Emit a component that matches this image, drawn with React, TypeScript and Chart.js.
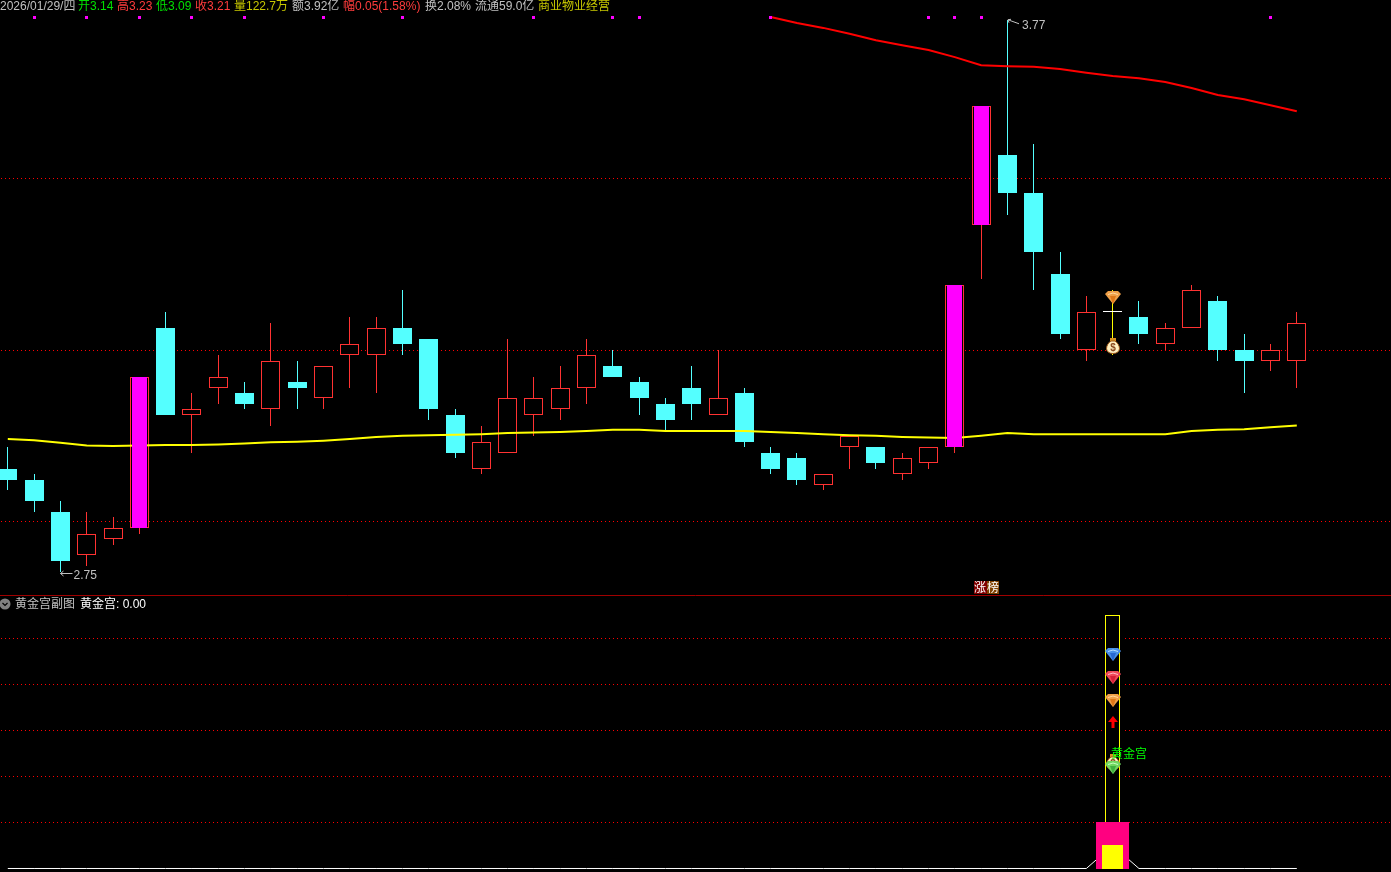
import React, { useEffect, useRef } from "react";
import { Chart, registerables } from "chart.js";

Chart.register(...registerables);

// ---- data ----
const opens = [2.94, 2.92, 2.86, 2.78, 2.81, 2.83, 3.20, 3.04, 3.09, 3.08, 3.05, 3.10, 3.07, 3.15, 3.15, 3.20, 3.18, 3.04, 2.94, 2.97, 3.04, 3.05, 3.09, 3.13, 3.10, 3.06, 3.09, 3.04, 3.08, 2.97, 2.96, 2.91, 2.98, 2.98, 2.93, 2.95, 2.98, 3.39, 3.52, 3.45, 3.30, 3.16, 3.23, 3.22, 3.17, 3.20, 3.25, 3.16, 3.14, 3.14];
const closes = [2.92, 2.88, 2.77, 2.82, 2.83, 3.11, 3.04, 3.05, 3.11, 3.06, 3.14, 3.09, 3.13, 3.17, 3.20, 3.17, 3.05, 2.97, 2.99, 3.07, 3.07, 3.09, 3.15, 3.11, 3.07, 3.03, 3.06, 3.07, 2.99, 2.94, 2.92, 2.93, 3.00, 2.95, 2.96, 2.98, 3.28, 3.61, 3.45, 3.34, 3.19, 3.23, 3.23, 3.19, 3.20, 3.27, 3.16, 3.14, 3.16, 3.21];
const highs = [2.98, 2.93, 2.88, 2.86, 2.85, 3.11, 3.23, 3.08, 3.15, 3.10, 3.21, 3.14, 3.13, 3.22, 3.22, 3.27, 3.18, 3.05, 3.02, 3.18, 3.11, 3.13, 3.18, 3.16, 3.11, 3.07, 3.13, 3.16, 3.09, 2.98, 2.97, 2.93, 3.00, 2.98, 2.97, 2.98, 3.28, 3.61, 3.77, 3.54, 3.34, 3.26, 3.27, 3.25, 3.21, 3.28, 3.26, 3.19, 3.17, 3.23];
const lows = [2.90, 2.86, 2.75, 2.76, 2.80, 2.82, 3.04, 2.97, 3.06, 3.05, 3.02, 3.05, 3.05, 3.09, 3.08, 3.15, 3.03, 2.96, 2.93, 2.97, 3.00, 3.03, 3.06, 3.11, 3.04, 3.01, 3.03, 3.04, 2.98, 2.93, 2.91, 2.90, 2.94, 2.94, 2.92, 2.94, 2.97, 3.29, 3.41, 3.27, 3.18, 3.14, 3.15, 3.17, 3.16, 3.20, 3.14, 3.08, 3.12, 3.09];
const maMid = [2.995, 2.993, 2.988, 2.983, 2.982, 2.983, 2.984, 2.984, 2.985, 2.987, 2.989, 2.990, 2.992, 2.995, 2.999, 3.001, 3.002, 3.003, 3.004, 3.006, 3.007, 3.008, 3.010, 3.012, 3.012, 3.010, 3.010, 3.010, 3.010, 3.008, 3.006, 3.004, 3.002, 3.001, 2.999, 2.998, 2.997, 3.001, 3.006, 3.004, 3.004, 3.004, 3.004, 3.004, 3.004, 3.010, 3.012, 3.013, 3.017, 3.020];
const maLong = [null, null, null, null, null, null, null, null, null, null, null, null, null, null, null, null, null, null, null, null, null, null, null, null, null, null, null, null, null, 3.775, 3.764, 3.755, 3.744, 3.732, 3.723, 3.714, 3.701, 3.686, 3.684, 3.683, 3.679, 3.672, 3.666, 3.662, 3.655, 3.644, 3.631, 3.623, 3.612, 3.601];
const limitUpDays = [5, 36, 37];
const signalDays = [1, 3, 5, 7, 9, 12, 15, 20, 23, 24, 29, 35, 36, 37, 48];
const signalLevel = 3.775;
const dojiDays = [42];
const goldDay = 42;
const goldLine = [0, 0, 0, 0, 0, 0, 0, 0, 0, 0, 0, 0, 0, 0, 0, 0, 0, 0, 0, 0, 0, 0, 0, 0, 0, 0, 0, 0, 0, 0, 0, 0, 0, 0, 0, 0, 0, 0, 0, 0, 0, 0, 0.5, 0, 0, 0, 0, 0, 0, 0];
const goldStick = [0, 5.5];
const goldOuter = [0, 1];
const goldInner = [0, 0.5];
const mainGems = [3.257];
const mainBag = [3.166];
const subBlue = [4.66];
const subRed = [4.16];
const subOrange = [3.66];
const subArrow = [3.18];
const subBag = [2.31];
const subGreen = [2.19];
const mainGrid = [3.477, 3.159, 2.843];
const subGrid = [5, 4, 3, 2, 1];
const headerTexts = ["2026/01/29/四", "开", "3.14", "高", "3.23", "低", "3.09", "收", "3.21", "量", "122.7万", "额", "3.92亿", "幅", "0.05(1.58%)", "换", "2.08%", "流通", "59.0亿", "商业物业经营"];
const highLabel = "3.77";
const lowLabel = "2.75";
const subName = "黄金宫副图";
const subValue = "黄金宫: 0.00";
const subMark = "黄金宫";
const badge = ["涨", "榜"];

// ---- styling and layout ----
const W = 1391;
const H = 872;
const RED = "#ff3232";
const CYAN = "#54ffff";
const MAGENTA = "#ff00ff";
const GREY = "#c0c0c0";
const OLIVE = "#c8c800";
const GREEN = "#00e000";
const UPRED = "#ff3c3c";
const GRID = "#ff0000";
const headerColors = [GREY, GREEN, GREEN, UPRED, UPRED, GREEN, GREEN, UPRED, UPRED, OLIVE, OLIVE, GREY, GREY, UPRED, UPRED, GREY, GREY, GREY, GREY, OLIVE];
const headerX = [0, 78, 90, 117, 129, 156, 168, 195, 207, 234, 246, 292, 304, 343, 355, 425, 437, 475, 499, 538];

function makeCanvas(w: number, h: number) {
  const c = document.createElement("canvas");
  c.width = w;
  c.height = h;
  return c;
}

function makeGem(base: string, light: string, dark: string) {
  const c = makeCanvas(16, 13);
  const g = c.getContext("2d")!;
  g.fillStyle = base;
  g.beginPath();
  g.moveTo(3, 0);
  g.lineTo(13, 0);
  g.lineTo(16, 3);
  g.lineTo(8, 13);
  g.lineTo(0, 3);
  g.closePath();
  g.fill();
  g.fillStyle = dark;
  g.beginPath();
  g.moveTo(5, 5);
  g.lineTo(11, 5);
  g.lineTo(8, 13);
  g.closePath();
  g.fill();
  g.strokeStyle = light;
  g.lineWidth = 1;
  g.beginPath();
  g.moveTo(3, 3.5);
  g.quadraticCurveTo(8, 0.5, 13, 3.5);
  g.stroke();
  return c;
}

function makeBag() {
  const c = makeCanvas(14, 16);
  const g = c.getContext("2d")!;
  g.fillStyle = "#d89020";
  g.fillRect(4, 0, 6, 3);
  g.fillStyle = "#fff0c0";
  g.strokeStyle = "#a05818";
  g.lineWidth = 1;
  g.beginPath();
  g.moveTo(5, 3);
  g.lineTo(9, 3);
  g.bezierCurveTo(15, 7, 15.5, 15.5, 7, 15.5);
  g.bezierCurveTo(-1.5, 15.5, -1, 7, 5, 3);
  g.closePath();
  g.fill();
  g.stroke();
  g.fillStyle = "#8a4a20";
  g.font = 'bold 10px "Liberation Sans"';
  g.textAlign = "center";
  g.textBaseline = "middle";
  g.fillText("$", 7, 10);
  return c;
}

function makeArrow() {
  const c = makeCanvas(10, 12);
  const g = c.getContext("2d")!;
  g.fillStyle = "#ff0000";
  g.beginPath();
  g.moveTo(5, 0);
  g.lineTo(10, 6);
  g.lineTo(6.5, 6);
  g.lineTo(6.5, 12);
  g.lineTo(3.5, 12);
  g.lineTo(3.5, 6);
  g.lineTo(0, 6);
  g.closePath();
  g.fill();
  return c;
}

const FONT = '12px "Liberation Sans", "Noto Sans CJK SC", sans-serif';

const snapPlugin = {
  id: "snap",
  beforeDatasetsDraw(chart: any) {
    chart.getSortedVisibleDatasetMetas().forEach((meta: any) => {
      if (meta.type === "bar") {
        meta.data.forEach((el: any) => {
          el.x = Math.floor(el.x) + 0.5;
          el.y = Math.round(el.y - 0.01);
          el.base = Math.round(el.base + 0.01);
        });
      } else if (!meta.controller.getDataset().showLine) {
        meta.data.forEach((el: any) => {
          const style = el.options.pointStyle;
          if (style && style.width) {
            el.x = Math.floor(el.x) + 1;
            el.y = Math.floor(el.y) + (style.height % 2 ? 0.5 : 0);
          } else {
            el.x = Math.floor(el.x) + 0.5;
            el.y = Math.floor(el.y) + 0.5;
          }
        });
      }
    });
  },
};

const textPlugin = {
  id: "texts",
  afterDraw(chart: any) {
    const g = chart.ctx;
    const xs = chart.scales.x;
    const ys = chart.scales.y;
    const ys2 = chart.scales.y2;
    g.save();
    g.font = FONT;
    g.textBaseline = "middle";
    g.textAlign = "left";
    headerTexts.forEach((t, i) => {
      g.fillStyle = headerColors[i];
      g.fillText(t, headerX[i], 7);
    });
    g.beginPath();
    g.arc(5, 604, 5.5, 0, Math.PI * 2);
    g.fillStyle = "#808080";
    g.fill();
    g.strokeStyle = "#000";
    g.lineWidth = 1.2;
    g.beginPath();
    g.moveTo(2.5, 603);
    g.lineTo(5, 605.5);
    g.lineTo(7.5, 603);
    g.stroke();
    g.fillStyle = GREY;
    g.fillText(subName, 15, 605);
    g.fillStyle = "#ffffff";
    g.fillText(subValue, 80, 605);

    // high / low call-outs
    const hiIndex = highs.indexOf(Math.max(...highs));
    const loIndex = lows.indexOf(Math.min(...lows));
    const hx = Math.floor(xs.getPixelForValue(hiIndex)) + 1;
    const hy = ys.getPixelForValue(highs[hiIndex]);
    const lx = Math.floor(xs.getPixelForValue(loIndex)) + 0.5;
    const ly = Math.round(ys.getPixelForValue(lows[loIndex])) + 1.5;
    g.strokeStyle = GREY;
    g.lineWidth = 1;
    g.beginPath();
    g.moveTo(hx, hy);
    g.lineTo(hx + 11, hy + 4);
    g.moveTo(hx, hy);
    g.lineTo(hx + 3, hy - 0.5);
    g.moveTo(hx, hy);
    g.lineTo(hx + 1, hy + 3);
    g.moveTo(lx, ly);
    g.lineTo(lx + 12, ly);
    g.moveTo(lx, ly);
    g.lineTo(lx + 3, ly - 2.5);
    g.moveTo(lx, ly);
    g.lineTo(lx + 3, ly + 2.5);
    g.stroke();
    g.fillStyle = GREY;
    g.fillText(highLabel, hx + 14, hy + 6);
    g.fillText(lowLabel, lx + 13, ly + 2);

    // badge
    g.fillStyle = "#800000";
    g.fillRect(974, 581, 13, 13);
    g.fillStyle = "#804000";
    g.fillRect(987, 581, 12, 13);
    g.fillStyle = "#ffffff";
    g.fillText(badge[0], 974, 589);
    g.fillText(badge[1], 987, 589);

    // sub pane mark
    g.fillStyle = "#00ff00";
    g.fillText(subMark, Math.floor(xs.getPixelForValue(goldDay)) - 1, ys2.getPixelForValue(2.48));
    g.restore();
  },
};

export default function App() {
  const ref = useRef<HTMLCanvasElement | null>(null);
  useEffect(() => {
    document.body.style.margin = "0";
    document.body.style.background = "#000";
    const idx = opens.map((_, i) => i);
    const bodyIdx = idx.filter((i) => !dojiDays.includes(i));
    const isUp = (i: number) => closes[i] >= opens[i];
    const gemOrange = makeGem("#f0a048", "#ffd8a0", "#e07818");
    const gemBlue = makeGem("#4890e8", "#b8e0ff", "#2868d0");
    const gemRed = makeGem("#f04858", "#ffc0c8", "#d82038");
    const gemGreen = makeGem("#70d860", "#c8ffc0", "#40b040");
    const bag = makeBag();
    const arrow = makeArrow();

    const barBase = {
      type: "bar" as const,
      grouped: false,
      barPercentage: 4,
      categoryPercentage: 1,
      inflateAmount: 0,
      borderSkipped: false,
    };
    const mark = (x: number, y: number, style: any, axis: string, order: number) => ({
      type: "line" as const,
      data: [{ x, y }],
      showLine: false,
      pointStyle: style,
      pointRadius: 8,
      yAxisID: axis,
      order,
    });

    const chart = new Chart(ref.current!, {
      type: "bar",
      data: {
        datasets: [
          {
            ...barBase,
            data: idx.map((i) => ({ x: i, y: [lows[i], highs[i]] })),
            maxBarThickness: 1,
            backgroundColor: idx.map((i) => (dojiDays.includes(i) ? "#ffff00" : isUp(i) ? RED : CYAN)),
            yAxisID: "y",
            order: 30,
          },
          {
            ...barBase,
            data: bodyIdx.map((i) => ({ x: i, y: [opens[i], closes[i]] })),
            maxBarThickness: 19,
            backgroundColor: bodyIdx.map((i) => (isUp(i) ? "#000000" : CYAN)),
            borderColor: bodyIdx.map((i) => (isUp(i) ? RED : CYAN)),
            borderWidth: 1,
            yAxisID: "y",
            order: 29,
          },
          {
            ...barBase,
            data: dojiDays.map((i) => ({ x: i, y: [opens[i], closes[i]] })),
            maxBarThickness: 19,
            minBarLength: 1,
            backgroundColor: "#ffffff",
            yAxisID: "y",
            order: 28,
          },
          {
            type: "line",
            data: idx.map((i) => ({ x: i, y: maMid[i] })),
            borderColor: "#ffff00",
            borderWidth: 2,
            pointRadius: 0,
            showLine: true,
            yAxisID: "y",
            order: 20,
          },
          {
            type: "line",
            data: idx.map((i) => ({ x: i, y: maLong[i] })),
            borderColor: "#ff0000",
            borderWidth: 2,
            pointRadius: 0,
            showLine: true,
            yAxisID: "y",
            order: 19,
          },
          {
            ...barBase,
            data: limitUpDays.map((i) => ({ x: i, y: [opens[i], closes[i]] })),
            maxBarThickness: 15,
            backgroundColor: MAGENTA,
            yAxisID: "y",
            order: 15,
          },
          {
            type: "line",
            data: signalDays.map((i) => ({ x: i, y: signalLevel })),
            showLine: false,
            pointStyle: "rect",
            pointRadius: 2.1213,
            pointBorderWidth: 0,
            pointBackgroundColor: MAGENTA,
            yAxisID: "y",
            order: 14,
          },
          // sub pane
          {
            type: "line",
            data: idx.map((i) => ({ x: i, y: goldLine[i] })),
            borderColor: "#ffffff",
            borderWidth: 1,
            pointRadius: 0,
            showLine: true,
            yAxisID: "y2",
            order: 13,
          },
          {
            ...barBase,
            data: [{ x: goldDay, y: goldStick }],
            maxBarThickness: 19,
            backgroundColor: "#000000",
            yAxisID: "y2",
            order: 12,
          },
          {
            ...barBase,
            data: [{ x: goldDay, y: goldStick }],
            maxBarThickness: 15,
            backgroundColor: "#000000",
            borderColor: "#ffff00",
            borderWidth: 1,
            yAxisID: "y2",
            order: 11,
          },
          {
            ...barBase,
            data: [{ x: goldDay, y: goldOuter }],
            maxBarThickness: 33,
            backgroundColor: "#ff0080",
            yAxisID: "y2",
            order: 10,
          },
          {
            ...barBase,
            data: [{ x: goldDay, y: goldInner }],
            maxBarThickness: 21,
            backgroundColor: "#ffff00",
            yAxisID: "y2",
            order: 9,
          },
          mark(goldDay, subBag[0], bag, "y2", 6),
          mark(goldDay, subGreen[0], gemGreen, "y2", 5),
          mark(goldDay, subBlue[0], gemBlue, "y2", 4),
          mark(goldDay, subRed[0], gemRed, "y2", 4),
          mark(goldDay, subOrange[0], gemOrange, "y2", 4),
          mark(goldDay, subArrow[0], arrow, "y2", 4),
          mark(goldDay, mainGems[0], gemOrange, "y", 4),
          mark(goldDay, mainBag[0], bag, "y", 4),
        ] as any,
      },
      options: {
        responsive: false,
        animation: false,
        devicePixelRatio: 1,
        events: [],
        layout: { padding: 0, autoPadding: false },
        plugins: { legend: { display: false }, tooltip: { enabled: false }, title: { display: false } },
        scales: {
          x: { type: "linear", min: -0.2965, max: 52.581, display: false, offset: false, grid: { offset: false } },
          y: {
            position: "left",
            min: 2.19473,
            max: 3.80656,
            ticks: { display: false },
            grid: { color: GRID, drawTicks: false },
            border: { display: false, dash: [1, 3], dashOffset: 3 },
            afterBuildTicks: (a: any) => {
              a.ticks = mainGrid.map((value) => ({ value }));
            },
          },
          y2: {
            position: "left",
            min: -0.0761,
            max: 18.88,
            ticks: { display: false },
            grid: { color: GRID, drawTicks: false },
            border: { display: false, dash: [1, 3], dashOffset: 3 },
            afterBuildTicks: (a: any) => {
              a.ticks = subGrid.map((value) => ({ value }));
            },
          },
          divider: {
            position: "left",
            min: 0,
            max: H,
            reverse: true,
            ticks: { display: false },
            grid: { color: "#a00000", drawTicks: false },
            border: { display: false },
            afterBuildTicks: (a: any) => {
              a.ticks = [{ value: 595 }];
            },
          },
        },
      } as any,
      plugins: [snapPlugin, textPlugin],
    });
    return () => chart.destroy();
  }, []);
  return (
    <div style={{ position: "fixed", left: 0, top: 0, width: W, height: H, background: "#000" }}>
      <canvas ref={ref} width={W} height={H} style={{ display: "block", width: W, height: H, background: "#000" }} />
    </div>
  );
}
